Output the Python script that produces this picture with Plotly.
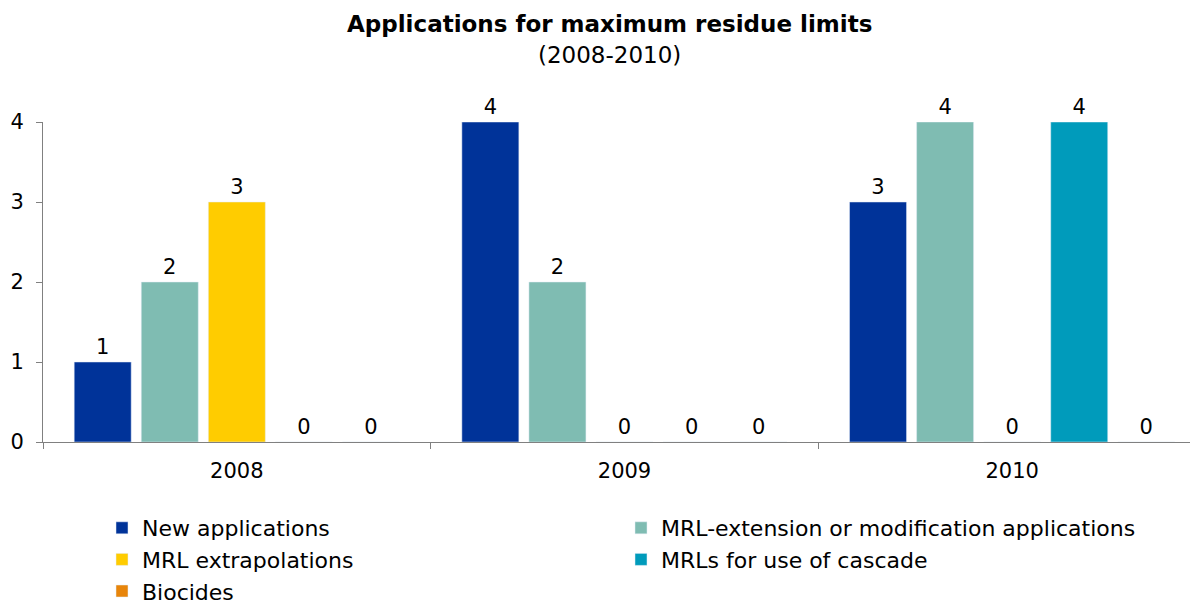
import plotly.graph_objects as go

years = ["2008", "2009", "2010"]
series_names = [
    "New applications",
    "MRL-extension or modification applications",
    "MRL extrapolations",
    "MRLs for use of cascade",
    "Biocides",
]
new_applications = [1, 4, 3]
mrl_extension = [2, 2, 4]
mrl_extrapolations = [3, 0, 0]
mrl_cascade = [0, 0, 4]
biocides = [0, 0, 0]
colors = ["#003399", "#7FBCB2", "#FFCC00", "#009BBB", "#E8850A"]

values = [new_applications, mrl_extension, mrl_extrapolations, mrl_cascade, biocides]
FONT = "Verdana, DejaVu Sans, sans-serif"

W, H = 1198, 602
ML, MR, MT, MB = 35, 0, 114, 168

fig = go.Figure()
for name, vals, col in zip(series_names, values, colors):
    fig.add_trace(go.Bar(
        x=years, y=vals, name=name, marker_color=col,
        text=[str(v) for v in vals], textposition="outside",
        textfont=dict(size=21, color="#000000", family=FONT),
        cliponaxis=False,
    ))

ph = H - MT - MB
pw = W - ML - MR
def ypix(p):
    return (H - MB - p) / ph

fig.update_layout(
    width=W, height=H,
    margin=dict(l=ML, r=MR, t=MT, b=MB, autoexpand=False),
    paper_bgcolor="white", plot_bgcolor="white",
    font=dict(family=FONT, size=21, color="#000000"),
    barmode="group", bargap=0.135, bargroupgap=0.15,
    showlegend=True,
    legend=dict(
        orientation="h", x=94 / W, xref="container", xanchor="left",
        y=(H - 499) / H, yref="container", yanchor="top",
        entrywidth=474, entrywidthmode="pixels",
        font=dict(size=22, family=FONT),
        traceorder="normal", itemwidth=30,
    ),
    xaxis=dict(
        showline=True, linecolor="#808080", linewidth=1,
        ticks="outside", ticklen=6, tickcolor="#808080", tickson="boundaries",
        showgrid=False, tickfont=dict(size=21), automargin=False,
        ticklabelstandoff=10,
    ),
    yaxis=dict(
        range=[0, 4], dtick=1, showline=True, linecolor="#808080", linewidth=1,
        ticks="outside", ticklen=6, tickcolor="#808080", showgrid=False,
        zeroline=False, tickfont=dict(size=21), automargin=False,
        ticklabelstandoff=8,
    ),
    annotations=[
        dict(text="<b>Applications for maximum residue limits</b>",
             x=(601 - ML) / pw, xref="paper", y=ypix(16), yref="paper",
             yanchor="middle", showarrow=False, font=dict(size=23)),
        dict(text="(2008-2010)", x=(601 - ML) / pw, xref="paper", y=ypix(47),
             yref="paper", yanchor="middle", showarrow=False, font=dict(size=23)),
    ],
)

fig.write_html("out.html")
